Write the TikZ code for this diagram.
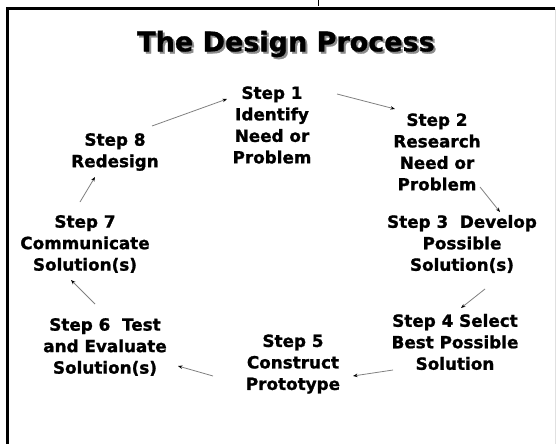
\documentclass[tikz,border=0pt]{standalone}
\usepackage{fontspec}
\setmainfont{DejaVu Sans}[BoldFeatures={FakeBold=1.2}]
\usetikzlibrary{arrows.meta}

\begin{document}
\begin{tikzpicture}[x=1pt,y=-1pt,
        stepnode/.style={align=center,inner sep=0pt,
            font=\fontsize{16.8}{21.5}\selectfont\bfseries},
        flow/.style={draw=black!50,line width=0.8pt,
            -{Stealth[length=4.5pt,width=3.5pt,black]}}]
    \useasboundingbox (0,0) rectangle (556,444);
    \draw[black!12,line width=0.8pt] (555,9) -- (555,444);
    \draw[line width=3pt] (555,9) -- (7,9) -- (7,444);
    \draw[line width=1pt] (318,0) -- (318,6);
    % title, its shadow set 2pt right and down
    \node[font=\fontsize{27}{30}\selectfont\bfseries] (title) at (286,45)
        {\makebox[0pt][l]{\hspace{2pt}\raisebox{-2pt}{\color{black!45}The Design Process}}The Design Process};
    % the eight steps
    \node[stepnode] (s1) at (272,125) {Step 1\\Identify\\Need or\\Problem};
    \node[stepnode] (s2) at (437,152) {Step 2\\Research\\Need or\\Problem};
    \node[stepnode] (s3) at (462,244) {Step 3~~Develop\\Possible\\Solution(s)};
    \node[stepnode] (s4) at (455,342) {Step 4 Select\\Best Possible\\Solution};
    \node[stepnode] (s5) at (293,364) {Step 5\\Construct\\Prototype};
    \node[stepnode] (s6) at (105,347) {Step 6~~Test\\and Evaluate\\Solution(s)};
    \node[stepnode] (s7) at (85,244) {Step 7\\Communicate\\Solution(s)};
    \node[stepnode] (s8) at (115,152) {Step 8\\Redesign};
    % arrows round the cycle
    \draw[flow] ([shift={(37,-26)}]s8.center) -- ([shift={(-45,-26)}]s1.center);
    \draw[flow] ([shift={(65,-31)}]s1.center) -- ([shift={(-42,-43)}]s2.center);
    \draw[flow] ([shift={(43,35)}]s2.center) -- ([shift={(38,-32)}]s3.center);
    \draw[flow] ([shift={(23,45)}]s3.center) -- ([shift={(6,-34)}]s4.center);
    \draw[flow] ([shift={(-62,28)}]s4.center) -- ([shift={(60,12)}]s5.center);
    \draw[flow] ([shift={(-80,12)}]s5.center) -- ([shift={(73,19)}]s6.center);
    \draw[flow] ([shift={(-10,-43)}]s6.center) -- ([shift={(-14,36)}]s7.center);
    \draw[flow] ([shift={(-5,-42)}]s7.center) -- ([shift={(-20,25)}]s8.center);
\end{tikzpicture}
\end{document}
